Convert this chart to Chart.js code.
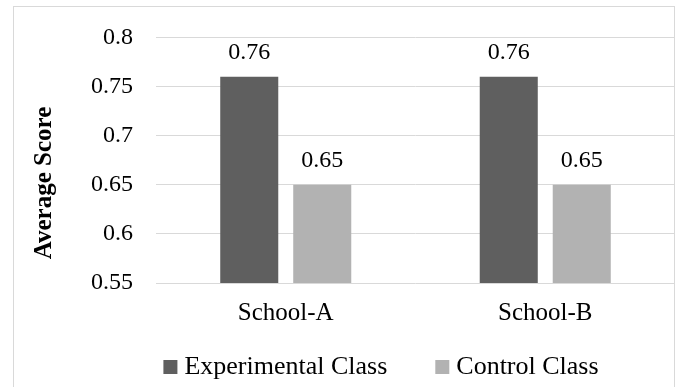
<!DOCTYPE html>
<html>
<head>
<meta charset="utf-8">
<script src="https://cdn.jsdelivr.net/npm/chart.js@4"></script>
<style>
  html, body { margin: 0; padding: 0; background: #ffffff; }
  #wrap { position: relative; width: 681px; height: 387px; }
</style>
</head>
<body>
<div id="wrap"><canvas id="chart" width="681" height="387"></canvas></div>
<script>
// Average scores per school
const schools = ['School-A', 'School-B'];
const experimentalScores = [0.76, 0.76];
const controlScores = [0.65, 0.65];
const yTickValues = [0.55, 0.6, 0.65, 0.7, 0.75, 0.8];
const seriesNames = ['Experimental Class', 'Control Class'];
const yAxisTitle = 'Average Score';

const FONT = '"Liberation Serif", serif';
const GRID = '#d9d9d9';
const TEXT = '#000000';

// Light frame around the whole figure
const framePlugin = {
  id: 'frame',
  beforeDraw(chart) {
    const ctx = chart.ctx;
    ctx.save();
    ctx.fillStyle = '#ffffff';
    ctx.fillRect(0, 0, chart.width, chart.height);
    ctx.strokeStyle = GRID;
    ctx.lineWidth = 1;
    ctx.strokeRect(13.5, 6.5, 661, 400);
    ctx.restore();
  }
};

// Value labels above each bar
const valueLabelPlugin = {
  id: 'valueLabels',
  afterDatasetsDraw(chart) {
    const ctx = chart.ctx;
    ctx.save();
    ctx.font = '24px ' + FONT;
    ctx.fillStyle = TEXT;
    ctx.textAlign = 'center';
    ctx.textBaseline = 'alphabetic';
    chart.data.datasets.forEach((ds, di) => {
      const meta = chart.getDatasetMeta(di);
      meta.data.forEach((bar, i) => {
        ctx.fillText(String(ds.data[i]), bar.x, bar.y - 18);
      });
    });
    ctx.restore();
  }
};

// Rotated y-axis title
const yTitlePlugin = {
  id: 'yTitle',
  afterDraw(chart) {
    const ctx = chart.ctx;
    ctx.save();
    ctx.font = 'bold 25px ' + FONT;
    ctx.fillStyle = TEXT;
    ctx.textAlign = 'center';
    ctx.textBaseline = 'alphabetic';
    ctx.translate(51, 183);
    ctx.rotate(-Math.PI / 2);
    ctx.fillText(yAxisTitle, 0, 0);
    ctx.restore();
  }
};

// Legend row below the category labels
const legendPlugin = {
  id: 'bottomLegend',
  afterDraw(chart) {
    const ctx = chart.ctx;
    ctx.save();
    ctx.font = '26px ' + FONT;
    const box = 14, textGap = 7, itemGap = 48, center = 381, baseline = 374;
    const items = chart.data.datasets.map(ds => ({
      text: ds.label,
      color: ds.backgroundColor,
      w: box + textGap + ctx.measureText(ds.label).width
    }));
    const total = items.reduce((s, it) => s + it.w, 0) + itemGap * (items.length - 1);
    let x = center - total / 2;
    ctx.textAlign = 'left';
    ctx.textBaseline = 'alphabetic';
    items.forEach(it => {
      ctx.fillStyle = it.color;
      ctx.fillRect(x, baseline - box, box, box);
      ctx.fillStyle = TEXT;
      ctx.fillText(it.text, x + box + textGap, baseline);
      x += it.w + itemGap;
    });
    ctx.restore();
  }
};

new Chart(document.getElementById('chart'), {
  type: 'bar',
  data: {
    labels: schools,
    datasets: [
      {
        label: seriesNames[0],
        data: experimentalScores,
        backgroundColor: '#5f5f5f',
        categoryPercentage: 0.5626,
        barPercentage: 0.795
      },
      {
        label: seriesNames[1],
        data: controlScores,
        backgroundColor: '#b2b2b2',
        categoryPercentage: 0.5626,
        barPercentage: 0.795
      }
    ]
  },
  options: {
    responsive: false,
    animation: false,
    devicePixelRatio: 1,
    layout: { padding: { left: 88, right: 6, top: 35, bottom: 40 } },
    plugins: {
      legend: { display: false },
      tooltip: { enabled: false }
    },
    scales: {
      x: {
        grid: { display: false, drawTicks: false },
        border: { display: false },
        ticks: {
          font: { family: FONT, size: 25 },
          color: TEXT,
          padding: 15
        },
        afterFit(scale) { scale.height = 64; }
      },
      y: {
        min: 0.55,
        max: 0.8,
        grid: { color: GRID, lineWidth: 1, drawTicks: false },
        border: { display: false },
        ticks: {
          font: { family: FONT, size: 24 },
          color: TEXT,
          padding: 23,
          callback: (v) => String(v)
        },
        afterBuildTicks(scale) {
          scale.ticks = yTickValues.map(v => ({ value: v }));
        },
        afterFit(scale) { scale.width = 68; }
      }
    }
  },
  plugins: [framePlugin, valueLabelPlugin, yTitlePlugin, legendPlugin]
});
</script>
</body>
</html>
